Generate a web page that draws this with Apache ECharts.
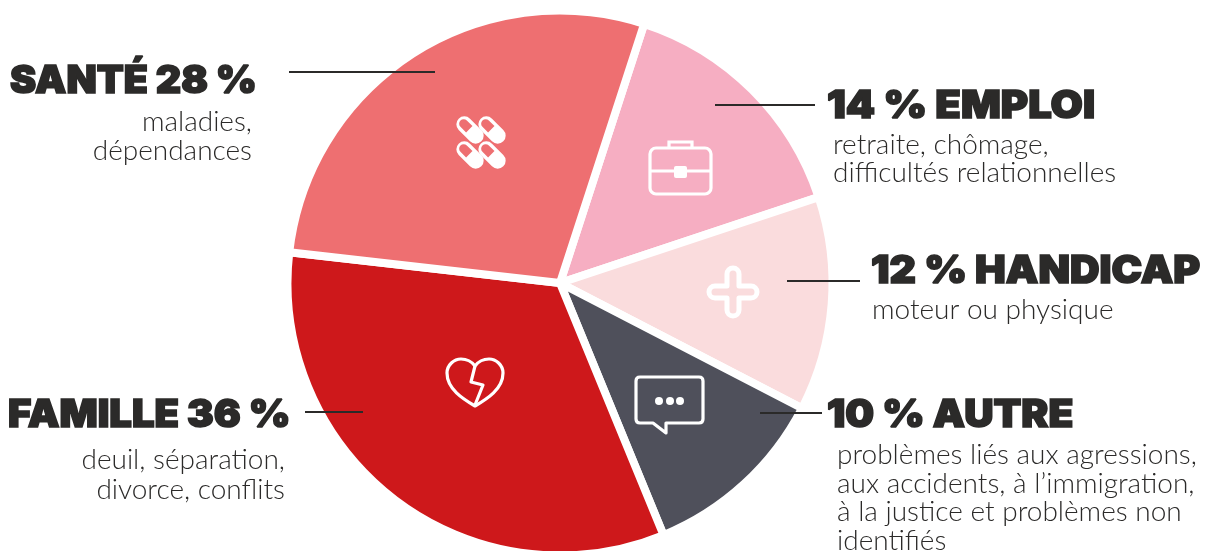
<!DOCTYPE html>
<html>
<head>
<meta charset="utf-8">
<script src="https://cdn.jsdelivr.net/npm/echarts@6/dist/echarts.min.js"></script>
<style>
html,body{margin:0;padding:0;background:#fff}
#main{width:1217px;height:551px}
</style>
</head>
<body>
<div id="main"></div>
<script>
// categories, clockwise from the Emploi slice
var categories = ['EMPLOI', 'HANDICAP', 'AUTRE', 'FAMILLE', 'SANTÉ'];
// printed percentages
var percents = [14, 12, 10, 36, 28];
// slice sizes as they are drawn in the picture (they differ a bit from the printed ones)
var drawnShares = [14.9, 12.7, 11.2, 33.0, 28.2];
var colors = ['#f6aec2', '#fadcdd', '#4f505b', '#ce181b', '#ee6f71'];
var details = [
    ['retraite, chômage,', 'difficultés relationnelles'],
    ['moteur ou physique'],
    ['problèmes liés aux agressions,', 'aux accidents, à l’immigration,', 'à la justice et problèmes non', 'identifiés'],
    ['deuil, séparation,', 'divorce, conflits'],
    ['maladies,', 'dépendances']
];

var ink = '#2b2a29';
var titleFont = 'Inter';
var bodyFont = 'Lato';

// where each text block and leader line sits
var blocks = [
    {side: 'left', titleX: 827, titleY: 107, stretch: 1.098, bodyX: 833, bodyY: [145, 173], line: [715, 815, 105]},
    {side: 'left', titleX: 871, titleY: 272, stretch: 1.078, bodyX: 872, bodyY: [310], line: [787, 860, 281]},
    {side: 'left', titleX: 827, titleY: 416, stretch: 1.068, bodyX: 837, bodyY: [455, 484, 512, 541], line: [760, 822, 413]},
    {side: 'right', titleX: 8, titleY: 416, stretch: 1.052, bodyX: 285, bodyY: [460, 490], line: [305, 363, 412]},
    {side: 'right', titleX: 10, titleY: 82, stretch: 1.036, bodyX: 252, bodyY: [122, 151], line: [289, 435, 72]}
];

function titleText(i){
    if(blocks[i].side == 'left') return percents[i] + ' % ' + categories[i];
    return categories[i] + ' ' + percents[i] + ' %';
}

function buildTexts(){
    var els = [];
    blocks.forEach(function(b, i){
        els.push({
            type: 'text', x: b.titleX, y: b.titleY, scaleX: b.stretch,
            style: {text: titleText(i), fill: ink, stroke: ink, lineWidth: 1.6, fontFamily: titleFont, fontWeight: 900, fontSize: 38, align: 'left', verticalAlign: 'middle'}
        });
        b.bodyY.forEach(function(y, k){
            els.push({
                type: 'text', x: b.bodyX, y: y,
                style: {text: details[i][k], fill: ink, fontFamily: bodyFont, fontWeight: 300, fontSize: 28, align: b.side, verticalAlign: 'middle'}
            });
        });
        els.push({
            type: 'line', z: 10, shape: {x1: b.line[0], y1: b.line[2], x2: b.line[1], y2: b.line[2]},
            style: {stroke: ink, lineWidth: 2}
        });
    });
    return els;
}

function iconPath(d, x, y, w, h, lw){
    return {
        type: 'path',
        shape: {pathData: d, x: x, y: y, width: w, height: h, layout: 'cover'},
        style: {fill: 'none', stroke: '#fff', lineWidth: lw || 3.2, lineJoin: 'round'}
    };
}

function pill(cx, cy){
    return {
        type: 'group', x: cx, y: cy, rotation: -Math.PI / 4,
        children: [
            {type: 'rect', shape: {x: -16, y: -8, width: 32, height: 16, r: 8}, style: {fill: '#fff'}},
            {type: 'path', shape: {pathData: 'M-9 -4.5 H-1 V4.5 H-9 A4.5 4.5 0 0 1 -9 -4.5 Z', x: -13.5, y: -4.5, width: 12.5, height: 9, layout: 'cover'}, style: {fill: colors[4]}}
        ]
    };
}

function buildIcons(){
    var els = [pill(470, 130), pill(492, 130), pill(470, 155), pill(492, 155)];
    // briefcase
    els.push({type: 'rect', shape: {x: 650, y: 148, width: 61, height: 46, r: 6}, style: {fill: 'none', stroke: '#fff', lineWidth: 3.2}});
    els.push({type: 'polyline', shape: {points: [[669, 147], [669, 142], [692, 142], [692, 147]]}, style: {fill: 'none', stroke: '#fff', lineWidth: 3.2}});
    els.push({type: 'line', shape: {x1: 650, y1: 171, x2: 711, y2: 171}, style: {stroke: '#fff', lineWidth: 3.2}});
    els.push({type: 'rect', shape: {x: 674, y: 166, width: 13, height: 12, r: 2}, style: {fill: '#fff'}});
    // plus
    els.push(iconPath('M727 274 A6 6 0 0 1 739 274 V286 H751 A6 6 0 0 1 751 298 H739 V310 A6 6 0 0 1 727 310 V298 H715 A6 6 0 0 1 715 286 H727 Z', 709, 268, 48, 48, 5));
    // broken heart
    els.push(iconPath('M475 406 C463 399 447 389 447 373 C447 365 454 359 461 359 C467 359 472 362 475 366 C478 362 483 359 489 359 C496 359 503 365 503 373 C503 389 487 399 475 406 Z', 447, 359, 56, 47));
    els.push({type: 'polyline', shape: {points: [[475, 366], [471, 382], [483, 385], [475, 405]]}, style: {fill: 'none', stroke: '#fff', lineWidth: 3.2, lineJoin: 'round'}});
    // speech bubble
    els.push(iconPath('M640 377 H699 Q703 377 703 381 V419 Q703 423 699 423 H666 V433 L653 423 H640 Q636 423 636 419 V381 Q636 377 640 377 Z', 636, 377, 67, 56));
    [659, 670, 680].forEach(function(x){
        els.push({type: 'circle', shape: {cx: x, cy: 401, r: 4}, style: {fill: '#fff'}});
    });
    return els;
}

var myChart = echarts.init(document.getElementById('main'));
var option = {
    animation: false,
    backgroundColor: '#fff',
    series: [{
        type: 'pie',
        center: [560, 283],
        radius: [0, 272.5],
        startAngle: 72,
        clockwise: true,
        silent: true,
        label: {show: false},
        labelLine: {show: false},
        itemStyle: {borderColor: '#fff', borderWidth: 8},
        data: categories.map(function(name, i){
            return {name: name, value: drawnShares[i], itemStyle: {color: colors[i]}};
        })
    }, {
        // the white pictograms on the slices
        type: 'custom',
        coordinateSystem: 'none',
        silent: true,
        z: 5,
        data: [0],
        renderItem: function(){
            return {type: 'group', children: buildIcons()};
        }
    }],
    graphic: {elements: buildTexts()}
};
myChart.setOption(option);
</script>
</body>
</html>
